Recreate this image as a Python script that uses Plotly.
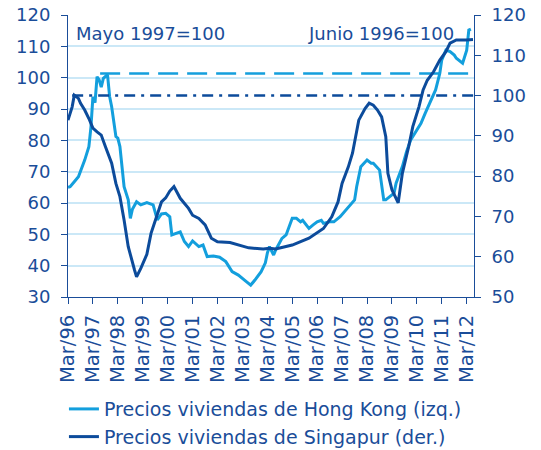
import plotly.graph_objects as go

# ---------------- data ----------------
hk_dates = ["1996-03","1996-04","1996-06","1996-08","1996-11","1997-01","1997-02","1997-03","1997-04",
            "1997-05","1997-06","1997-07","1997-08","1997-10","1997-11","1997-12","1998-02","1998-03",
            "1998-04","1998-06","1998-08","1998-09","1998-10","1998-12","1999-02","1999-05","1999-08",
            "1999-10","1999-12","2000-02","2000-04","2000-05","2000-09","2000-11","2001-01","2001-03",
            "2001-06","2001-08","2001-10","2002-01","2002-04","2002-07","2002-10","2003-01","2003-04",
            "2003-07","2003-09","2003-12","2004-02","2004-03","2004-04","2004-06","2004-07","2004-10",
            "2004-12","2005-03","2005-05","2005-07","2005-08","2005-11","2006-01","2006-03","2006-05",
            "2006-06","2006-09","2006-11","2007-02","2007-05","2007-09","2007-10","2007-12","2008-03",
            "2008-05","2008-06","2008-09","2008-11","2008-12","2009-04","2009-05","2009-08","2009-10",
            "2009-12","2010-03","2010-05","2010-07","2010-10","2010-12","2011-02","2011-03","2011-05",
            "2011-07","2011-09","2011-10","2012-01","2012-03","2012-04","2012-05"]
hk_values = [65.0,65.2,66.8,68.4,73.7,78.0,84.4,93.9,92.0,
             100.3,99.3,97.0,99.8,101.0,94.0,90.7,81.2,80.7,
             78.0,65.2,61.0,55.1,58.0,60.4,59.4,60.1,59.4,
             54.6,56.5,56.7,55.6,49.8,50.8,47.7,46.1,47.9,
             46.1,46.6,42.9,43.1,42.7,41.3,38.1,37.0,35.4,
             33.8,35.4,38.1,40.9,44.0,46.1,43.4,45.0,48.7,
             49.8,55.1,55.1,54.0,54.5,51.9,53.0,54.0,54.5,
             53.5,54.0,54.0,55.6,57.8,61.0,65.2,71.6,73.7,
             72.7,72.7,70.5,61.0,61.0,63.1,66.3,71.6,76.4,
             80.1,83.3,85.4,88.6,92.9,96.1,101.4,105.6,108.8,
             108.3,107.2,106.2,104.6,108.8,115.2,115.5]

sg_dates = ["1996-03","1996-05","1996-06","1996-08","1996-09","1996-11","1997-01","1997-03","1997-05",
            "1997-07","1997-09","1997-11","1997-12","1998-02","1998-04","1998-06","1998-08","1998-11",
            "1998-12","1999-02","1999-05","1999-07","1999-10","1999-12","2000-02","2000-04","2000-06",
            "2000-09","2001-01","2001-03","2001-06","2001-09","2001-12","2002-03","2002-09","2003-01",
            "2003-06","2004-01","2004-04","2004-07","2005-03","2005-11","2006-06","2006-10","2007-01",
            "2007-03","2007-06","2007-08","2007-11","2008-02","2008-04","2008-06","2008-08","2008-10",
            "2008-12","2009-01","2009-03","2009-06","2009-08","2009-11","2010-01","2010-04","2010-06",
            "2010-08","2010-11","2011-02","2011-05","2011-07","2011-10","2012-03","2012-06"]
sg_values = [93.9,97.2,100.1,99.3,98.1,96.4,94.3,91.9,91.0,
             90.2,87.3,84.8,83.2,78.2,74.9,69.1,62.5,56.7,
             55.0,57.1,60.6,65.8,70.8,73.6,74.6,76.3,77.4,
             74.5,72.0,70.3,69.5,67.9,64.6,63.7,63.5,62.9,
             62.2,61.9,62.1,61.9,62.9,64.6,67.0,69.9,73.6,
             78.2,82.3,85.7,93.9,96.8,98.1,97.6,96.4,94.7,
             89.8,80.7,76.6,73.4,80.7,87.3,92.3,97.2,101.4,
             103.8,105.9,108.8,110.9,113.0,113.8,113.8,113.9]

# reference levels (base = 100 lines)
hk_ref_level = 101.3
hk_ref_dates = ["1997-06-15", "2012-06-16"]
sg_ref_level = 100.0
sg_ref_dates = ["1996-05-01", "2012-06-16"]

tick_dates = [f"{y}-03-01" for y in range(1996, 2013)]
tick_labels = [f"Mar/{str(y)[2:]}" for y in range(1996, 2013)]

hk_name = "Precios viviendas de Hong Kong (izq.)"
sg_name = "Precios viviendas de Singapur (der.)"

# ---------------- style ----------------
LIGHT = "#139fdd"
DARK = "#0c4b9b"
TEXT = "#1a4d99"
GRID = "#cbe8f7"
FONT = "DejaVu Sans"

fig = go.Figure()
fig.add_trace(go.Scatter(x=hk_ref_dates, y=[hk_ref_level]*2, mode="lines",
                         line=dict(color=LIGHT, width=2.5, dash="20px,9px"),
                         showlegend=False, hoverinfo="skip"))
fig.add_trace(go.Scatter(x=sg_ref_dates, y=[sg_ref_level]*2, mode="lines", yaxis="y2",
                         line=dict(color=DARK, width=2.5, dash="11px,6px,3px,6px"),
                         showlegend=False, hoverinfo="skip"))
fig.add_trace(go.Scatter(x=hk_dates, y=hk_values, mode="lines", name=hk_name,
                         line=dict(color=LIGHT, width=3)))
fig.add_trace(go.Scatter(x=sg_dates, y=sg_values, mode="lines", name=sg_name, yaxis="y2",
                         line=dict(color=DARK, width=3)))

def yaxis_style(**kw):
    d = dict(showline=True, linecolor=TEXT, linewidth=1, ticks="outside",
             ticklen=6, tickcolor=TEXT, zeroline=False, automargin=False,
             ticklabelstandoff=7,
             tickfont=dict(family=FONT, size=18, color=TEXT))
    d.update(kw)
    return d

fig.update_layout(
    width=541, height=450,
    margin=dict(l=68, r=67, t=15, b=153, autoexpand=False),
    paper_bgcolor="white", plot_bgcolor="white",
    font=dict(family=FONT, color=TEXT),
    xaxis=dict(type="date", range=["1996-03-01", "2012-06-16"],
               tickmode="array", tickvals=tick_dates, ticktext=tick_labels,
               tickangle=-90, showgrid=False, showline=True, linecolor=TEXT,
               ticks="outside", ticklen=6, tickcolor=TEXT, zeroline=False, automargin=False,
               ticklabelstandoff=3,
               tickfont=dict(family=FONT, size=19.5, color=TEXT)),
    yaxis=yaxis_style(range=[30, 120], dtick=10, tick0=30, showgrid=True,
                      gridcolor=GRID, gridwidth=1.5),
    yaxis2=yaxis_style(range=[50, 120], dtick=10, tick0=50, overlaying="y",
                       side="right", showgrid=False),
    legend=dict(x=-0.01, y=-0.33, xanchor="left", yanchor="top", orientation="v",
                font=dict(family=FONT, size=19, color=TEXT),
                bgcolor="rgba(0,0,0,0)", tracegroupgap=0),
    annotations=[
        dict(text="Mayo 1997=100", xref="paper", yref="paper", x=0.015, y=0.935,
             xanchor="left", yanchor="middle", showarrow=False,
             font=dict(family=FONT, size=18, color=TEXT)),
        dict(text="Junio 1996=100", xref="paper", yref="paper", x=0.955, y=0.935,
             xanchor="right", yanchor="middle", showarrow=False,
             font=dict(family=FONT, size=18, color=TEXT)),
    ],
    showlegend=True,
)

fig.write_html("out.html")
